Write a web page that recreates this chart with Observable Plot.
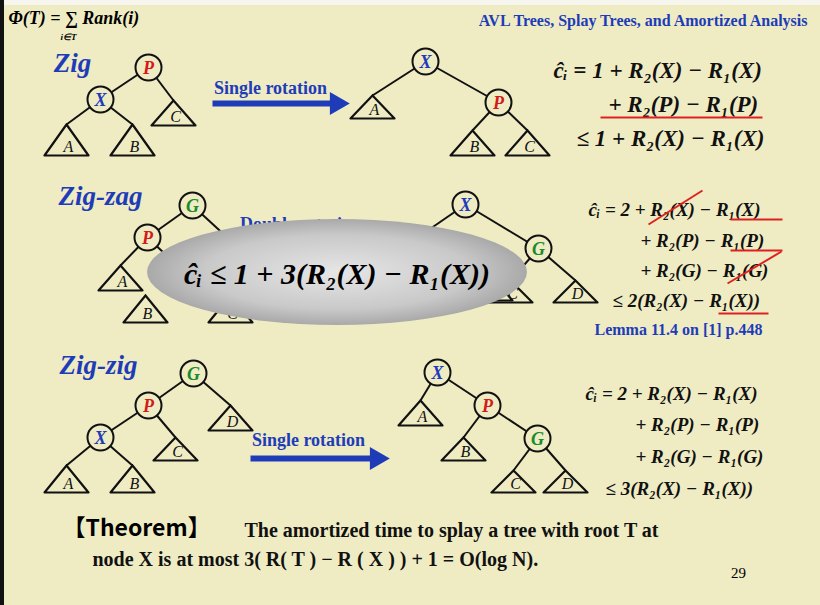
<!DOCTYPE html>
<html>
<head>
<meta charset="utf-8">
<script src="https://cdn.jsdelivr.net/npm/d3@7"></script>
<script src="https://cdn.jsdelivr.net/npm/@observablehq/plot@0.6"></script>
<style>
  body { margin: 0; background: #efecc4; }
  #chart { position: relative; width: 820px; height: 605px; }
</style>
</head>
<body>
<div id="chart"></div>
<script>
// tree nodes: name, x, y, colour
const nodes = [
  ["P", 148, 67, "red"], ["X", 100, 99, "blue"],
  ["X", 425, 61, "blue"], ["P", 498, 102, "red"],
  ["G", 192, 205, "green"], ["P", 147, 237, "red"],
  ["X", 465, 204, "blue"], ["G", 538, 248, "green"],
  ["G", 193, 373, "green"], ["P", 148, 405, "red"], ["X", 100, 437, "blue"],
  ["X", 437, 372, "blue"], ["P", 487, 405, "red"], ["G", 537, 438, "green"]
];
// edges between centres / triangle apexes
const edges = [
  [148, 67, 100, 99], [148, 67, 173, 100], [100, 99, 66, 124], [100, 99, 132, 124],
  [425, 61, 372, 95], [425, 61, 498, 102], [498, 102, 472, 130], [498, 102, 527, 130],
  [192, 205, 147, 237], [192, 205, 230, 240], [147, 237, 120, 265], [147, 237, 180, 268],
  [465, 204, 420, 235], [465, 204, 538, 248], [538, 248, 510, 280], [538, 248, 575, 280],
  [193, 373, 148, 405], [193, 373, 230, 405], [148, 405, 100, 437], [148, 405, 175, 437],
  [100, 437, 66, 465], [100, 437, 132, 465],
  [437, 372, 420, 400], [437, 372, 487, 405], [487, 405, 463, 437], [487, 405, 537, 438],
  [537, 438, 513, 470], [537, 438, 565, 470]
];
// subtrees: label, apex x, apex y, base y
const subtrees = [
  ["A", 66, 124, 155], ["B", 132, 124, 155], ["C", 173, 100, 125],
  ["A", 372, 95, 118], ["B", 472, 130, 155], ["C", 527, 130, 155],
  ["A", 120, 265, 290], ["B", 145, 295, 322], ["C", 230, 295, 322],
  ["D", 575, 280, 302], ["C", 510, 280, 302], ["B", 490, 275, 300],
  ["D", 230, 405, 430], ["C", 175, 437, 460], ["A", 66, 465, 492], ["B", 132, 465, 492],
  ["A", 420, 400, 425], ["B", 463, 437, 460], ["C", 513, 470, 492], ["D", 565, 470, 492]
];
const arrows = [[212, 103, 330, 103], [250, 458, 370, 458]];
const heads = [[336, 103], [376, 458]];
const titles = [["Zig", 72, 63], ["Zig-zag", 100, 196], ["Zig-zig", 98, 365]];
const labels = [["Single rotation", 270, 88], ["Single rotation", 308, 440], ["Double rotation", 300, 224]];
// equations: text, x, y, size
const equations = [
  ["ĉᵢ = 1 + R₂(X) − R₁(X)", 553, 70, 23], ["+ R₂(P) − R₁(P)", 608, 104, 23], ["≤ 1 + R₂(X) − R₁(X)", 576, 138, 23],
  ["ĉᵢ = 2 + R₂(X) − R₁(X)", 588, 209, 19], ["+ R₂(P) − R₁(P)", 640, 240, 19], ["+ R₂(G) − R₁(G)", 640, 270, 19], ["≤ 2(R₂(X) − R₁(X))", 612, 300, 19],
  ["ĉᵢ = 2 + R₂(X) − R₁(X)", 585, 393, 19], ["+ R₂(P) − R₁(P)", 635, 424, 19], ["+ R₂(G) − R₁(G)", 635, 456, 19], ["≤ 3(R₂(X) − R₁(X))", 605, 488, 19]
];
const redMarks = [
  [600, 117, 762, 117], [730, 219, 782, 219], [648, 224, 702, 190], [730, 250, 782, 250],
  [727, 283, 781, 251], [718, 313, 768, 313]
];
const colours = {red: "#d41a1a", blue: "#1e3cb8", green: "#1b8a2c"};

const tri = subtrees.flatMap(([l, x, y, b], i) => [
  {i, x, y}, {i, x: x - 22, y: b}, {i, x: x + 22, y: b}, {i, x, y}
]);
const bi = {textAnchor: "start", fontWeight: "bold", fontSize: 20, fill: "#111"};

const chart = Plot.plot({
  width: 820, height: 605, margin: 0,
  x: {domain: [0, 820], axis: null},
  y: {domain: [605, 0], axis: null},
  style: {background: "#efecc4", fontFamily: "Liberation Serif"},
  marks: [
    Plot.rect([0], {x1: 0, x2: 820, y1: 0, y2: 5, fill: "#f6f5ee"}),
    Plot.rect([0], {x1: 0, x2: 4, y1: 0, y2: 605, fill: "#111"}),
    Plot.link(edges, {x1: d => d[0], y1: d => d[1], x2: d => d[2], y2: d => d[3], stroke: "#111", strokeWidth: 2}),
    Plot.line(tri, {x: "x", y: "y", z: "i", stroke: "#111", strokeWidth: 2.2}),
    Plot.text(subtrees, {x: d => d[1] + 2, y: d => d[3] - 9, text: d => d[0], fontSize: 16, fontStyle: "italic", fill: "#111"}),
    Plot.dot(nodes, {x: d => d[1], y: d => d[2], r: 13, fill: "#efecc4", stroke: "#111", strokeWidth: 2}),
    Plot.text(nodes, {x: d => d[1], y: d => d[2] + 1, text: d => d[0], fill: d => colours[d[3]], fontSize: 18, fontWeight: "bold", fontStyle: "italic"}),
    Plot.link(arrows, {x1: d => d[0], y1: d => d[1], x2: d => d[2], y2: d => d[3], stroke: "#1e3cb8", strokeWidth: 6}),
    Plot.dot(heads, {x: d => d[0], y: d => d[1], symbol: "triangle2", rotate: 90, r: 11, fill: "#1e3cb8"}),
    Plot.text(titles, {x: d => d[1], y: d => d[2], text: d => d[0], fontSize: 27, fill: "#1e3cb8", fontWeight: "bold", fontStyle: "italic"}),
    Plot.text(labels, {x: d => d[1], y: d => d[2], text: d => d[0], fontSize: 18, fill: "#1e3cb8", fontWeight: "bold"}),
    Plot.text(equations, {x: d => d[1], y: d => d[2], text: d => d[0], fontSize: d => d[3], textAnchor: "start", fill: "#111", fontWeight: "bold", fontStyle: "italic"}),
    Plot.link(redMarks, {x1: d => d[0], y1: d => d[1], x2: d => d[2], y2: d => d[3], stroke: "#e02020", strokeWidth: 2}),
    Plot.text(["Lemma 11.4 on [1] p.448"], {x: 678, y: 329, text: d => d, fill: "#1e3cb8", fontSize: 16, fontWeight: "bold"}),
    Plot.text(["Φ(T) = ∑ Rank(i)"], {x: 8, y: 18, text: d => d, textAnchor: "start", fontSize: 18, fontWeight: "bold", fontStyle: "italic"}),
    Plot.text(["i∈T"], {x: 68, y: 37, text: d => d, fontSize: 9, fontWeight: "bold", fontStyle: "italic"}),
    Plot.text(["AVL Trees, Splay Trees, and Amortized Analysis"], {x: 807, y: 20, text: d => d, textAnchor: "end", fill: "#1e3cb8", fontSize: 16, fontWeight: "bold"}),
    Plot.text(["29"], {x: 738, y: 573, text: d => d, fontSize: 15}),
    Plot.text(["【Theorem】"], {x: 62, y: 528, text: d => d, textAnchor: "start", fontSize: 23, fontWeight: "bold", fontFamily: "Noto Sans CJK SC"}),
    Plot.text(["The amortized time to splay a tree with root T at"], {...bi, x: 244, y: 530, text: d => d}),
    Plot.text(["node X is at most 3( R( T ) − R ( X ) ) + 1 = O(log N)."], {...bi, x: 92, y: 559, text: d => d})
  ]
});

// grey oval overlay with the summary bound
const svg = d3.select(chart);
const defs = svg.append("defs");
const g = defs.append("radialGradient").attr("id", "ov");
g.append("stop").attr("offset", "0%").attr("stop-color", "#e6e6e6");
g.append("stop").attr("offset", "70%").attr("stop-color", "#c9c9c9");
g.append("stop").attr("offset", "100%").attr("stop-color", "#a9a9a9");
svg.append("ellipse").attr("cx", 337).attr("cy", 272).attr("rx", 190).attr("ry", 53).attr("fill", "url(#ov)");
svg.append("text").attr("x", 337).attr("y", 284).attr("text-anchor", "middle")
  .attr("font-family", "Liberation Serif").attr("font-weight", "bold").attr("font-style", "italic")
  .attr("font-size", 30).text("ĉᵢ ≤ 1 + 3(R₂(X) − R₁(X))");

document.getElementById("chart").append(chart);
</script>
</body>
</html>
